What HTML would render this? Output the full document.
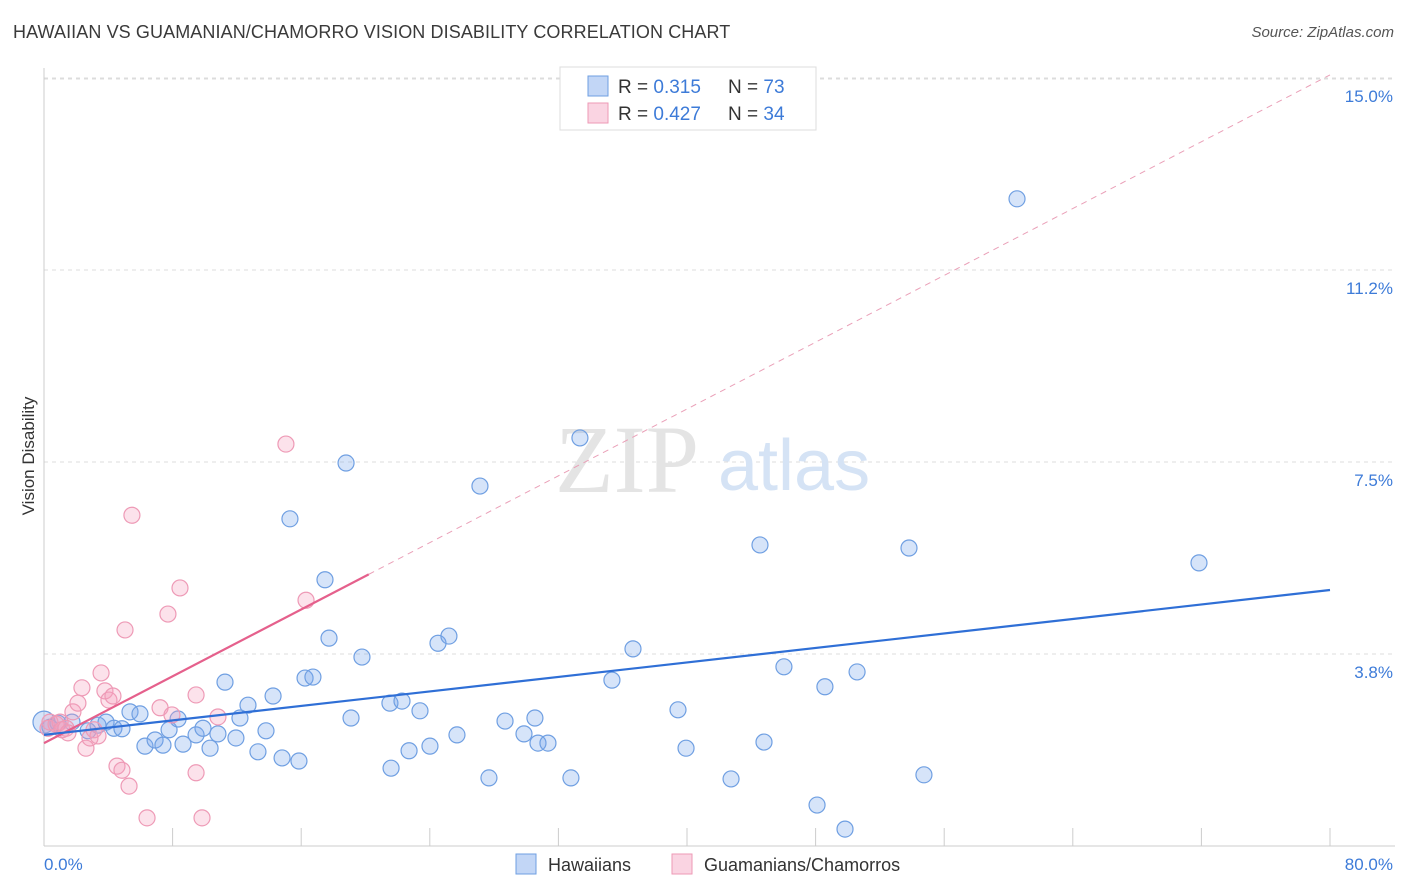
<!DOCTYPE html>
<html><head><meta charset="utf-8">
<style>
body{margin:0;background:#fff;font-family:"Liberation Sans",sans-serif;}
#wrap{position:relative;width:1406px;height:892px;overflow:hidden;}
.title{position:absolute;left:13px;top:22px;font-size:18px;color:#3a3a3a;letter-spacing:0.1px;}
.source{position:absolute;right:12px;top:24px;font-size:15px;color:#555;font-style:italic;}
</style></head>
<body>
<div id="wrap">
<div class="title">HAWAIIAN VS GUAMANIAN/CHAMORRO VISION DISABILITY CORRELATION CHART</div>
<div class="source">Source: ZipAtlas.com</div>
<svg id="chart" width="1406" height="892" style="position:absolute;left:0;top:0"></svg>
</div>
<script>
const xTicks=[0,8,16,24,32,40,48,56,64,72,80];
const yTicks=[3.75,7.5,11.25,15];
const yTickLabels=["3.8%","7.5%","11.2%","15.0%"];
const hawX=[0,0.37,0.87,1.74,2.74,3.36,3.86,4.35,4.85,5.35,5.97,6.28,6.91,7.40,7.78,8.34,8.65,9.46,9.89,10.33,10.82,11.26,11.94,12.19,12.69,13.31,13.81,14.25,14.81,15.30,15.86,16.24,16.73,17.48,17.73,18.79,19.10,19.78,21.52,21.59,22.27,22.71,23.39,24.01,24.51,25.19,25.69,27.12,27.68,28.68,29.86,30.54,30.73,31.35,32.78,33.34,35.33,36.64,39.44,39.94,42.74,44.54,44.79,46.03,48.09,48.58,49.83,50.58,53.81,54.74,60.53,71.85];
const hawY=[2.42,2.32,2.40,2.42,2.25,2.36,2.42,2.30,2.29,2.62,2.58,1.95,2.07,1.97,2.27,2.48,1.99,2.17,2.30,1.91,2.19,3.20,2.11,2.50,2.75,1.84,2.25,2.93,1.72,6.39,1.66,3.28,3.30,5.20,4.06,7.48,2.50,3.69,2.79,1.52,2.83,1.86,2.64,1.95,3.96,4.10,2.17,7.03,1.33,2.44,2.19,2.50,2.01,2.01,1.33,7.97,3.24,3.85,2.66,1.91,1.31,5.88,2.03,3.50,0.80,3.11,0.33,3.40,5.82,1.39,12.64,5.53];
const guaX=[0.25,0.37,0.75,1.0,1.12,1.37,1.49,1.80,2.11,2.36,2.61,2.86,3.11,3.36,3.55,3.79,4.04,4.29,4.54,4.85,5.04,5.29,5.47,6.41,7.22,7.71,7.96,8.46,9.46,9.46,9.83,10.82,15.05,16.30];
const guaY=[2.30,2.42,2.38,2.42,2.27,2.30,2.21,2.62,2.79,3.09,1.91,2.11,2.27,2.15,3.38,3.03,2.85,2.93,1.56,1.48,4.22,1.17,6.46,0.55,2.70,4.53,2.56,5.04,2.95,1.43,0.55,2.52,7.85,4.80];
const hawLine=[2.17,5.0];
const guaLine=[2.01,15.06];
const guaSolidEnd=20.2;

const NS="http://www.w3.org/2000/svg";
const svgEl=document.getElementById('chart');
const X=v=>44+v*16.075, Y=v=>846-v*51.2;
function mk(t,a){const e=document.createElementNS(NS,t);for(const k in a)e.setAttribute(k,a[k]);svgEl.appendChild(e);return e;}

yTicks.forEach((t,i)=>{
 const g=mk('line',{x1:44,x2:1395,y1:Y(t),y2:Y(t),stroke:'#dcdcdc','stroke-dasharray':'4,4'});
 
 
 const l=mk('text',{x:1393,y:Y(t)+24,'text-anchor':'end','font-size':17,fill:'#3d7bd8'});
 l.textContent=yTickLabels[i];
 
 
});
const topGrid=mk('line',{x1:44,x2:1395,y1:79,y2:79,stroke:'#dcdcdc','stroke-dasharray':'4,4'});


const ya=mk('line',{x1:44,x2:44,y1:68,y2:846,stroke:'#ccc'});


const xa=mk('line',{x1:44,x2:1395,y1:846,y2:846,stroke:'#ccc'});


xTicks.forEach(t=>{
 const k=mk('line',{x1:X(t),x2:X(t),y1:828,y2:846,stroke:'#ccc'});
 
 
});
const xl0=mk('text',{x:44,y:870,'font-size':17,fill:'#3d7bd8'});xl0.textContent='0.0%';


const xl1=mk('text',{x:1393,y:870,'text-anchor':'end','font-size':17,fill:'#3d7bd8'});xl1.textContent='80.0%';


const yt=mk('text',{x:34,y:456,'font-size':17,fill:'#333','text-anchor':'middle',transform:'rotate(-90 34 456)'});yt.textContent='Vision Disability';



const w1=mk('text',{x:555,y:492,'font-size':96,fill:'#e4e4e4','font-family':'Liberation Serif,serif'});w1.textContent='ZIP';


const w2=mk('text',{x:718,y:490,'font-size':72,fill:'#d5e3f5'});w2.textContent='atlas';



hawX.forEach((x,i)=>{
 const c=mk('circle',{cx:X(x),cy:Y(hawY[i]),r:i==0?11:8,fill:'rgba(120,165,235,0.3)',stroke:'#6f9fe2','stroke-width':1.2});
 
 
});
guaX.forEach((x,i)=>{
 const c=mk('circle',{cx:X(x),cy:Y(guaY[i]),r:8,fill:'rgba(245,160,190,0.3)',stroke:'#ee9ab6','stroke-width':1.2});
 
 
});
const gy=x=>guaLine[0]+(guaLine[1]-guaLine[0])*x/80;
const gd=mk('line',{x1:X(guaSolidEnd),y1:Y(gy(guaSolidEnd)),x2:X(80),y2:Y(gy(80)),stroke:'#eaa0b8','stroke-width':1,'stroke-dasharray':'6,5'});


const gs=mk('line',{x1:X(0),y1:Y(gy(0)),x2:X(guaSolidEnd),y2:Y(gy(guaSolidEnd)),stroke:'#e5608c','stroke-width':2.2});


const hl=mk('line',{x1:X(0),y1:Y(hawLine[0]),x2:X(80),y2:Y(hawLine[1]),stroke:'#2f6fd6','stroke-width':2.2});



const lb=mk('rect',{x:560,y:67,width:256,height:63,fill:'#fff',stroke:'#ddd'});


[['rgba(120,165,235,0.45)','#6f9fe2','0.315','73',86],['rgba(245,160,190,0.45)','#ee9ab6','0.427','34',113]].forEach(r=>{
 const s=mk('rect',{x:588,y:r[4]-10,width:20,height:20,fill:r[0],stroke:r[1]});
 
 
 const t=mk('text',{x:618,y:r[4]+7,'font-size':19,fill:'#333'});
 t.innerHTML='R = <tspan fill="#3d7bd8">'+r[2]+'</tspan><tspan x="728">N = </tspan><tspan fill="#3d7bd8">'+r[3]+'</tspan>';
 
 
});
[[516,'rgba(120,165,235,0.45)','#6f9fe2','Hawaiians'],[672,'rgba(245,160,190,0.45)','#ee9ab6','Guamanians/Chamorros']].forEach(r=>{
 const s=mk('rect',{x:r[0],y:854,width:20,height:20,fill:r[1],stroke:r[2]});
 
 
 const t=mk('text',{x:r[0]+32,y:871,'font-size':18,fill:'#333'});t.textContent=r[3];
 
 
});
</script>
</body></html>
